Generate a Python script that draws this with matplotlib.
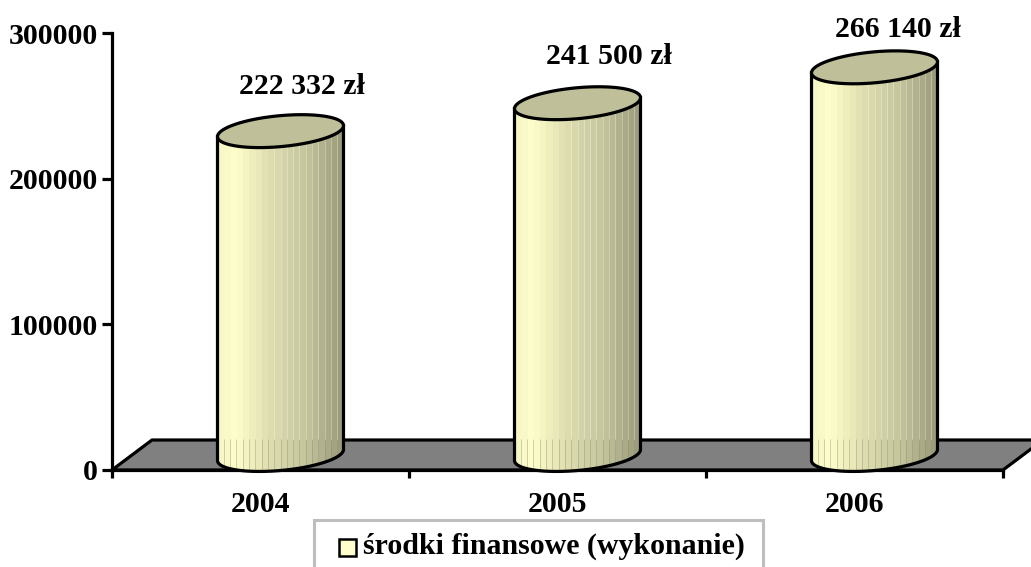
import matplotlib
matplotlib.use("Agg")
import matplotlib.pyplot as plt
import numpy as np
from matplotlib.colors import LinearSegmentedColormap
from matplotlib.patches import Polygon, Rectangle

years = ["2004", "2005", "2006"]
values = [222332, 241500, 266140]
value_labels = ["222 332 zł", "241 500 zł", "266 140 zł"]
y_ticks = [0, 100000, 200000, 300000]
legend_text = "środki finansowe (wykonanie)"

# where each value label sits relative to its bar, in pixels
label_dx = [41, 51, 43]
label_dy = [45, 47, 38]

W, H = 1031, 567
plt.rcParams["font.family"] = ["Liberation Serif", "DejaVu Serif"]
plt.rcParams["font.weight"] = "bold"
plt.rcParams["font.size"] = 21.5

fig = plt.figure(figsize=(W / 100, H / 100), dpi=100)
ax = fig.add_axes([112 / W, (H - 470) / H, 891 / W, 437 / H])
ax.set_xlim(0, 3)
ax.set_ylim(0, 300000)

# pixels -> data units
px = 3 / 891
py = 300000 / 437
LW = 2.3

# floor
floor_x = [0, 3, 3 + 40 * px, 40 * px]
floor_y = [0, 0, 30 * py, 30 * py]
ax.add_patch(Polygon(np.column_stack([floor_x, floor_y]), closed=True, fc="#808080",
                     ec="black", lw=LW, clip_on=False, zorder=1, joinstyle="miter"))

cmap = LinearSegmentedColormap.from_list("cyl", [(0, "#F6F6C6"), (0.12, "#FFFFCC"), (0.4, "#DEDEB0"),
                                                 (0.7, "#C6C69E"), (1, "#9C9C7C")])
n_strips = 20
strips = np.linspace(0, 1, n_strips).reshape(1, -1)
t = np.linspace(0, 2 * np.pi, 200)


def ellipse(cx, cy):
    return cx + 63 * px * np.cos(t), cy + 5.5 * py * np.cos(t) + 15.5 * py * np.sin(t)


for i, v in enumerate(values):
    cx = i + 0.5 + 20 * px
    base = 15 * py
    top = base + v
    xl, xr = cx - 63 * px, cx + 63 * px
    # body outline: bottom half of the foot, then up and along the top
    tb = np.linspace(np.pi, 2 * np.pi, 80)
    bx = cx + 63 * px * np.cos(tb)
    by = base + 5.5 * py * np.cos(tb) + 15.5 * py * np.sin(tb)
    body_x = np.r_[bx, xr, xl]
    body_y = np.r_[by, top + 5.5 * py, top - 5.5 * py]
    body = Polygon(np.column_stack([body_x, body_y]), closed=True, fc="none", ec="none",
                   clip_on=False, zorder=3)
    ax.add_patch(body)
    im = ax.imshow(strips, extent=[xl, xr, -5 * py, top + 10 * py], aspect="auto", cmap=cmap,
                   vmin=0, vmax=1, interpolation="nearest", zorder=2.5)
    im.set_clip_path(body)
    edges = np.linspace(xl, xr, n_strips + 1)[1:-1]
    # light seams between strips, right part of the body
    seams = ax.vlines(edges[8:], 30 * py, top, color="white", lw=0.7, alpha=0.3, zorder=2.6)
    seams.set_clip_path(body)
    # grey seams on the foot
    foot = ax.vlines(edges, -5 * py, 31 * py, color="#8C8C70", lw=0.6, alpha=0.45, zorder=2.6)
    foot.set_clip_path(body)
    ax.plot(np.r_[xl, bx, xr], np.r_[top - 5.5 * py, by, top + 5.5 * py], color="black", lw=LW,
            clip_on=False, zorder=4)
    ex, ey = ellipse(cx, top)
    ax.fill(ex, ey, fc="#BFBF99", ec="black", lw=LW, clip_on=False, zorder=4)
    ax.text(i + 0.5 + label_dx[i] * px, top + label_dy[i] * py, value_labels[i], ha="center",
            va="center", zorder=5, clip_on=False)

ax.set_xlim(0, 3)
ax.set_ylim(0, 300000)

for s in ["top", "right"]:
    ax.spines[s].set_visible(False)
for s in ["left", "bottom"]:
    ax.spines[s].set_linewidth(LW)
    ax.spines[s].set_zorder(2)
ax.set_xticks([0, 1, 2, 3])
ax.set_xticklabels([])
ax.set_xticks([0.5, 1.5, 2.5], labels=years, minor=True)
ax.tick_params(axis="x", which="major", direction="out", length=6, width=LW)
ax.tick_params(axis="x", which="minor", length=0, pad=15)
ax.set_yticks(y_ticks)
ax.set_yticklabels([str(y) for y in y_ticks])
ax.tick_params(axis="y", direction="out", length=7, width=LW, pad=3)

# legend is cut off by the lower edge of the picture
fig.add_artist(Rectangle((314 / W, -0.05), 449 / W, (H - 520) / H + 0.05, transform=fig.transFigure,
                         fc="white", ec="#BEBEBE", lw=2.2))
fig.add_artist(Rectangle((339 / W, (H - 556) / H), 17 / W, 17 / H, transform=fig.transFigure,
                         fc="#FFFFCC", ec="black", lw=1.8))
fig.text(363 / W, (H - 546) / H, legend_text, ha="left", va="center")

fig.savefig("out.png", dpi=100)
